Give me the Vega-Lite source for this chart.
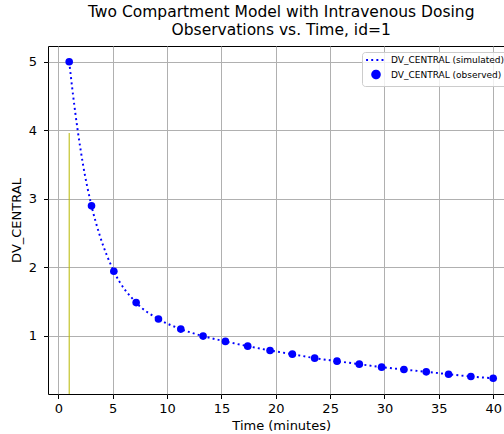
{
  "$schema": "https://vega.github.io/schema/vega-lite/v6.json",
  "width": 466.4,
  "height": 348,
  "autosize": {"type": "none"},
  "padding": {"left": 48, "top": 46, "right": -10.4, "bottom": 40},
  "background": "white",
  "title": {
    "text": ["Two Compartment Model with Intravenous Dosing", "Observations vs. Time, id=1"],
    "font": "DejaVu Sans",
    "fontSize": 15.5,
    "fontWeight": "normal",
    "color": "black",
    "anchor": "middle",
    "lineHeight": 18,
    "offset": 8
  },
  "datasets": {
    "dose": [{"time": 1, "top": 3.96, "bottom": 0.147}],
    "sim": [
      {"time": 1, "conc": 5.0, "series": "DV_CENTRAL (simulated)"},
      {"time": 1.35, "conc": 4.52, "series": "DV_CENTRAL (simulated)"},
      {"time": 1.78, "conc": 4.0, "series": "DV_CENTRAL (simulated)"},
      {"time": 2.27, "conc": 3.5, "series": "DV_CENTRAL (simulated)"},
      {"time": 3.053, "conc": 2.896, "series": "DV_CENTRAL (simulated)"},
      {"time": 3.8, "conc": 2.47, "series": "DV_CENTRAL (simulated)"},
      {"time": 5.105, "conc": 1.94, "series": "DV_CENTRAL (simulated)"},
      {"time": 7.158, "conc": 1.482, "series": "DV_CENTRAL (simulated)"},
      {"time": 9.211, "conc": 1.242, "series": "DV_CENTRAL (simulated)"},
      {"time": 11.263, "conc": 1.095, "series": "DV_CENTRAL (simulated)"},
      {"time": 13.316, "conc": 0.993, "series": "DV_CENTRAL (simulated)"},
      {"time": 15.368, "conc": 0.915, "series": "DV_CENTRAL (simulated)"},
      {"time": 17.421, "conc": 0.846, "series": "DV_CENTRAL (simulated)"},
      {"time": 19.474, "conc": 0.783, "series": "DV_CENTRAL (simulated)"},
      {"time": 21.526, "conc": 0.729, "series": "DV_CENTRAL (simulated)"},
      {"time": 23.579, "conc": 0.671, "series": "DV_CENTRAL (simulated)"},
      {"time": 25.632, "conc": 0.627, "series": "DV_CENTRAL (simulated)"},
      {"time": 27.684, "conc": 0.583, "series": "DV_CENTRAL (simulated)"},
      {"time": 29.737, "conc": 0.539, "series": "DV_CENTRAL (simulated)"},
      {"time": 31.789, "conc": 0.505, "series": "DV_CENTRAL (simulated)"},
      {"time": 33.842, "conc": 0.471, "series": "DV_CENTRAL (simulated)"},
      {"time": 35.895, "conc": 0.436, "series": "DV_CENTRAL (simulated)"},
      {"time": 37.947, "conc": 0.402, "series": "DV_CENTRAL (simulated)"},
      {"time": 40, "conc": 0.378, "series": "DV_CENTRAL (simulated)"}
    ],
    "obs": [
      {"time": 1, "conc": 5.0, "series": "DV_CENTRAL (observed)"},
      {"time": 3.053, "conc": 2.896, "series": "DV_CENTRAL (observed)"},
      {"time": 5.105, "conc": 1.94, "series": "DV_CENTRAL (observed)"},
      {"time": 7.158, "conc": 1.482, "series": "DV_CENTRAL (observed)"},
      {"time": 9.211, "conc": 1.242, "series": "DV_CENTRAL (observed)"},
      {"time": 11.263, "conc": 1.095, "series": "DV_CENTRAL (observed)"},
      {"time": 13.316, "conc": 0.993, "series": "DV_CENTRAL (observed)"},
      {"time": 15.368, "conc": 0.915, "series": "DV_CENTRAL (observed)"},
      {"time": 17.421, "conc": 0.846, "series": "DV_CENTRAL (observed)"},
      {"time": 19.474, "conc": 0.783, "series": "DV_CENTRAL (observed)"},
      {"time": 21.526, "conc": 0.729, "series": "DV_CENTRAL (observed)"},
      {"time": 23.579, "conc": 0.671, "series": "DV_CENTRAL (observed)"},
      {"time": 25.632, "conc": 0.627, "series": "DV_CENTRAL (observed)"},
      {"time": 27.684, "conc": 0.583, "series": "DV_CENTRAL (observed)"},
      {"time": 29.737, "conc": 0.539, "series": "DV_CENTRAL (observed)"},
      {"time": 31.789, "conc": 0.505, "series": "DV_CENTRAL (observed)"},
      {"time": 33.842, "conc": 0.471, "series": "DV_CENTRAL (observed)"},
      {"time": 35.895, "conc": 0.436, "series": "DV_CENTRAL (observed)"},
      {"time": 37.947, "conc": 0.402, "series": "DV_CENTRAL (observed)"},
      {"time": 40, "conc": 0.378, "series": "DV_CENTRAL (observed)"}
    ]
  },
  "layer": [
    {
      "data": {"name": "dose"},
      "mark": {"type": "rule", "color": "#b8b800", "strokeWidth": 1},
      "encoding": {
        "x": {
          "field": "time", "type": "quantitative",
          "scale": {"domain": [-0.95, 41.95], "nice": false, "zero": false},
          "axis": {"values": [0, 5, 10, 15, 20, 25, 30, 35, 40], "format": "d", "title": "Time (minutes)", "labelPadding": 4, "titlePadding": 4}
        },
        "y": {
          "field": "top", "type": "quantitative",
          "scale": {"domain": [0.147, 5.231], "nice": false, "zero": false},
          "axis": {"values": [1, 2, 3, 4, 5], "format": "d", "title": "DV_CENTRAL", "labelPadding": 7, "titlePadding": 5}
        },
        "y2": {"field": "bottom"}
      }
    },
    {
      "data": {"name": "sim"},
      "mark": {"type": "line", "interpolate": "monotone", "strokeWidth": 1.94, "strokeCap": "butt"},
      "encoding": {
        "x": {"field": "time", "type": "quantitative"},
        "y": {"field": "conc", "type": "quantitative"},
        "color": {
          "field": "series", "type": "nominal",
          "scale": {"domain": ["DV_CENTRAL (simulated)", "DV_CENTRAL (observed)"], "range": ["#0000ff", "#0000ff"]},
          "legend": {"title": null}
        },
        "strokeDash": {
          "field": "series", "type": "nominal",
          "scale": {"domain": ["DV_CENTRAL (simulated)", "DV_CENTRAL (observed)"], "range": [[1.94, 3.2], [1, 0]]},
          "legend": {"title": null}
        }
      }
    },
    {
      "data": {"name": "obs"},
      "mark": {"type": "point", "filled": true, "size": 58, "opacity": 1},
      "encoding": {
        "x": {"field": "time", "type": "quantitative"},
        "y": {"field": "conc", "type": "quantitative"},
        "color": {
          "field": "series", "type": "nominal",
          "scale": {"domain": ["DV_CENTRAL (simulated)", "DV_CENTRAL (observed)"], "range": ["#0000ff", "#0000ff"]},
          "legend": {"title": null}
        },
        "shape": {
          "field": "series", "type": "nominal",
          "scale": {"domain": ["DV_CENTRAL (simulated)", "DV_CENTRAL (observed)"], "range": ["M-2.6,0H2.6", "circle"]},
          "legend": {"title": null}
        }
      }
    }
  ],
  "config": {
    "view": {"stroke": "black", "strokeWidth": 1},
    "axis": {
      "domain": false,
      "grid": true,
      "gridColor": "#b0b0b0",
      "gridWidth": 1,
      "tickColor": "black",
      "tickSize": 4.5,
      "tickWidth": 1,
      "labelFont": "DejaVu Sans",
      "labelFontSize": 13,
      "labelColor": "black",
      "titleFont": "DejaVu Sans",
      "titleFontSize": 13,
      "titleFontWeight": "normal",
      "titleColor": "black"
    },
    "legend": {
      "orient": "none",
      "legendX": 314,
      "legendY": 6,
      "fillColor": "rgba(255,255,255,0.8)",
      "strokeColor": "#cccccc",
      "cornerRadius": 3,
      "padding": 3,
      "labelFont": "DejaVu Sans",
      "labelFontSize": 9,
      "labelColor": "black",
      "symbolOffset": 6,
      "labelOffset": 10,
      "rowPadding": 1.5,
      "symbolSize": 58,
      "symbolStrokeWidth": 1.94
    }
  }
}
